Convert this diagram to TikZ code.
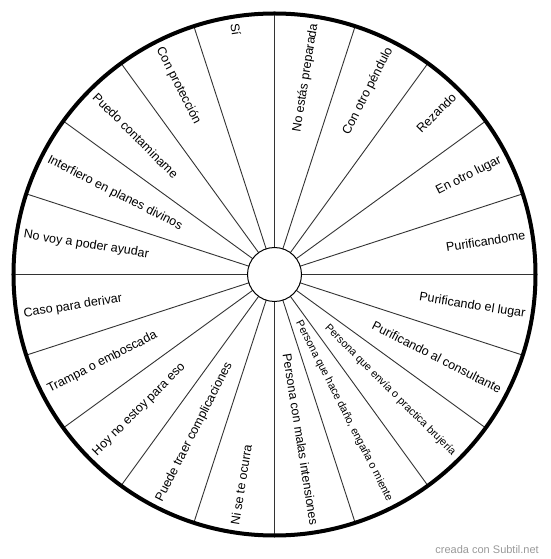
\documentclass[tikz,border=0pt]{standalone}
\usepackage{fontspec}
\setmainfont{Liberation Sans}
\definecolor{spokegray}{HTML}{333333}
\definecolor{creditgray}{HTML}{9A9A9A}
\begin{document}
\begin{tikzpicture}[x=1pt,y=1pt,
  lbl/.style={inner sep=0pt, font=\fontsize{12.5}{15}\selectfont},
  smalllbl/.style={inner sep=0pt, font=\fontsize{10.8}{13}\selectfont},
  spoke/.style={line width=0.9pt, draw=spokegray},
  rim/.style={line width=4pt, draw=black},
  hub/.style={line width=1pt, draw=black, fill=white},
  credit/.style={inner sep=0pt, text=creditgray, font=\fontsize{11}{13}\selectfont}]
\useasboundingbox (-274.5,-284.5) rectangle (275.5,274.5);
\fill[white] (-274.5,-284.5) rectangle (275.5,274.5);
% spokes
\foreach \a in {0,18,...,342} \draw[spoke] (\a:27) -- (\a:261);
% rim and hub
\draw[rim] (0,0) circle (261);
\draw[hub] (0,0) circle (27);
% right half labels (read outward)
\node[lbl, anchor=east, rotate=9]   (l9)   at (9:254)   {Purificandome};
\node[lbl, anchor=east, rotate=27]  (l27)  at (27:254)  {En otro lugar};
\node[lbl, anchor=east, rotate=45]  (l45)  at (45:254)  {Rezando};
\node[lbl, anchor=east, rotate=63]  (l63)  at (63:254)  {Con otro péndulo};
\node[lbl, anchor=east, rotate=81]  (l81)  at (81:254)  {No estás preparada};
\node[lbl, anchor=east, rotate=-81] (l279) at (-81:254) {Persona con malas intensiones};
\node[smalllbl, anchor=east, rotate=-63] (l297) at (-63:254) {Persona que hace daño, engaña o miente};
\node[smalllbl, anchor=east, rotate=-45] (l315) at (-45:254) {Persona que envía o practica brujería};
\node[lbl, anchor=east, rotate=-27] (l333) at (-27:254) {Purificando al consultante};
\node[lbl, anchor=east, rotate=-9]  (l351) at (-9:254)  {Purificando el lugar};
% left half labels (read inward)
\node[lbl, anchor=west, rotate=-81] (l99)  at (99:254)  {Sí};
\node[lbl, anchor=west, rotate=-63] (l117) at (117:254) {Con protección};
\node[lbl, anchor=west, rotate=-45] (l135) at (135:254) {Puedo contaminame};
\node[lbl, anchor=west, rotate=-27] (l153) at (153:254) {Interfiero en planes divinos};
\node[lbl, anchor=west, rotate=-9]  (l171) at (171:254) {No voy a poder ayudar};
\node[lbl, anchor=west, rotate=9]   (l189) at (189:254) {Caso para derivar};
\node[lbl, anchor=west, rotate=27]  (l207) at (207:254) {Trampa o emboscada};
\node[lbl, anchor=west, rotate=45]  (l225) at (225:254) {Hoy no estoy para eso};
\node[lbl, anchor=west, rotate=63]  (l243) at (243:254) {Puede traer complicaciones};
\node[lbl, anchor=west, rotate=81]  (l261) at (261:254) {Ni se te ocurra};
% credit
\node[credit, anchor=base east] (cred) at (264.5,-278.5) {creada con Subtil.net};
\end{tikzpicture}
\end{document}
